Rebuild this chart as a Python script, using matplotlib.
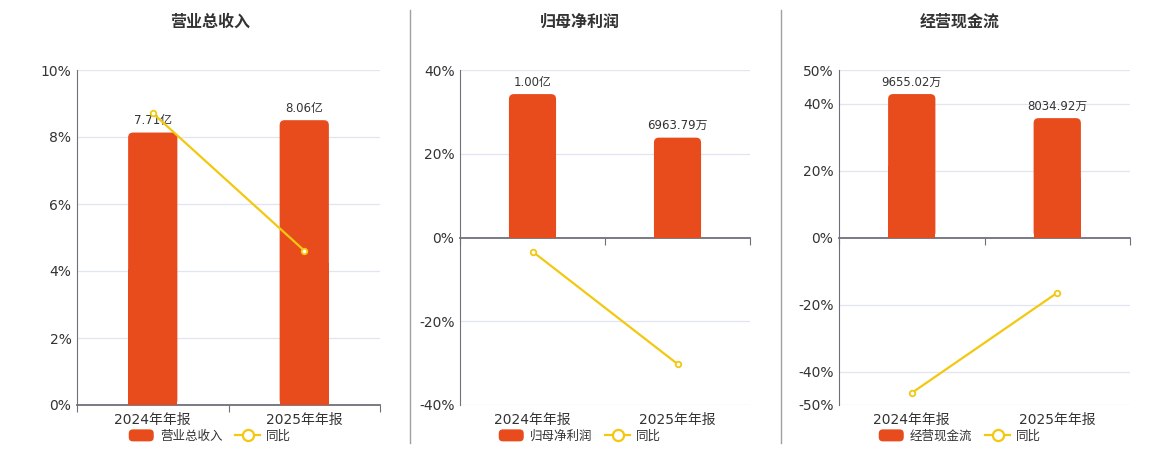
import numpy as np
import matplotlib.pyplot as plt
from matplotlib.patches import FancyBboxPatch, Rectangle, Patch
from matplotlib.lines import Line2D
from matplotlib.legend_handler import HandlerPatch
import matplotlib.transforms as mtransforms

plt.rcParams['font.family'] = ['DejaVu Sans', 'Noto Sans CJK SC']

categories = ['2024年年报', '2025年年报']

titles = ['营业总收入', '归母净利润', '经营现金流']

# 柱子数值（单位统一：亿 / 亿 / 万）
bar_values = [
    [7.71, 8.06],
    [1.00, 0.696379],
    [9655.02, 8034.92],
]
bar_labels = [
    ['7.71亿', '8.06亿'],
    ['1.00亿', '6963.79万'],
    ['9655.02万', '8034.92万'],
]
# 同比 (%)
yoy_values = [
    [8.71, 4.61],
    [-3.35, -30.2],
    [-46.4, -16.5],
]

y_ticks = [
    [0, 2, 4, 6, 8, 10],
    [-40, -20, 0, 20, 40],
    [-50, -40, -20, 0, 20, 40, 50],
]
y_lims = [(0, 10), (-40, 40), (-50, 50)]
bar_lims = [(0, 9.48), (-1.168, 1.168), (-11275, 11275)]

bar_color = '#E84B1C'
line_color = '#F2C811'
axis_color = '#6E7079'
grid_color = '#E0E6F1'
text_color = '#333333'

ax_lefts = [77, 460, 839]
ax_widths = [303, 290, 291]
centers = [210, 580, 960]


class RoundRectHandler(HandlerPatch):
    def create_artists(self, legend, orig_handle, xdescent, ydescent,
                       width, height, fontsize, trans):
        p = FancyBboxPatch((-xdescent, -ydescent), width, height,
                           boxstyle='round,pad=0,rounding_size=3',
                           fc=orig_handle.get_facecolor(), ec='none',
                           transform=trans)
        return [p]


W, H = 1160, 450
fig = plt.figure(figsize=(W / 100, H / 100), dpi=100)

for i in range(3):
    ax = fig.add_axes([ax_lefts[i] / W, 45 / H, ax_widths[i] / W, 335 / H])
    x = np.arange(len(categories))
    ax.set_xlim(-0.5, 1.5)
    ax.set_ylim(*y_lims[i])
    ax.set_yticks(y_ticks[i])
    ax.set_yticklabels([f'{t}%' for t in y_ticks[i]], fontsize=10, color=text_color)
    ax.tick_params(axis='y', length=0, pad=4)
    for t in y_ticks[i]:
        if t != 0 or i == 0:
            ax.axhline(t, color=grid_color, lw=0.9, zorder=0)

    for s in ['top', 'right']:
        ax.spines[s].set_visible(False)
    ax.spines['left'].set_color(axis_color)
    ax.spines['bottom'].set_color(axis_color)
    ax.spines['bottom'].set_linewidth(1.3)
    ax.spines['bottom'].set_position(('data', 0))
    ax.spines['bottom'].set_zorder(5)
    ax.set_xticks([-0.5, 0.5, 1.5])
    ax.set_xticklabels([])
    ax.tick_params(axis='x', length=5, color=axis_color, direction='out')

    trans = mtransforms.blended_transform_factory(ax.transData, ax.transAxes)
    for j, c in enumerate(categories):
        ax.text(x[j], -0.045, c, transform=trans, ha='center', va='center',
                fontsize=10, color=text_color)

    # 柱子放在隐藏的副轴上
    ax2 = ax.twinx()
    ax2.set_ylim(*bar_lims[i])
    ax2.axis('off')
    bw = 0.325
    lo, hi = bar_lims[i]
    # 像素比例，用于圆角
    px_x = ax_widths[i] / 2.0
    px_y = 335 / (hi - lo)
    r = 5 / px_x
    for j, v in enumerate(bar_values[i]):
        p = FancyBboxPatch((x[j] - bw / 2, 0), bw, v,
                           boxstyle=f'round,pad=0,rounding_size={r}',
                           mutation_aspect=px_x / px_y,
                           fc=bar_color, ec='none', zorder=2)
        ax2.add_patch(p)
        ax2.add_patch(Rectangle((x[j] - bw / 2, 0), bw, v * 0.5,
                                fc=bar_color, ec='none', zorder=2))
        ax2.annotate(bar_labels[i][j], (x[j], v), xytext=(0, 4),
                     textcoords='offset points', ha='center', va='bottom',
                     fontsize=8.5, color=text_color)

    ax3 = ax.twinx()
    ax3.set_ylim(*y_lims[i])
    ax3.axis('off')
    ax3.plot(x, yoy_values[i], color=line_color, lw=1.6, marker='o',
             markersize=4, markerfacecolor='white', markeredgecolor=line_color,
             markeredgewidth=1.3, zorder=4)

    fig.text(centers[i] / W, 1 - 22 / H, titles[i], ha='center', va='center',
             fontsize=11.5, fontweight='bold', color=text_color)

    handles = [Patch(fc=bar_color, ec='none'),
               Line2D([0], [0], color=line_color, lw=1.6, marker='o', markersize=8,
                      markerfacecolor='white', markeredgecolor=line_color,
                      markeredgewidth=1.6)]
    fig.legend(handles, [titles[i], '同比'], loc='center',
               bbox_to_anchor=(centers[i] / W, 1 - 436 / H), ncol=2,
               frameon=False, fontsize=9, handlelength=2.0, handleheight=1.1,
               columnspacing=1.0, handletextpad=0.5, labelcolor=text_color,
               handler_map={Patch: RoundRectHandler()})

# 面板分隔线
for xs in [410, 781]:
    fig.add_artist(Line2D([xs / W, xs / W], [1 - 443 / H, 1 - 10 / H],
                          color='#A0A0A0', lw=1))

fig.savefig('out.png', dpi=100)
